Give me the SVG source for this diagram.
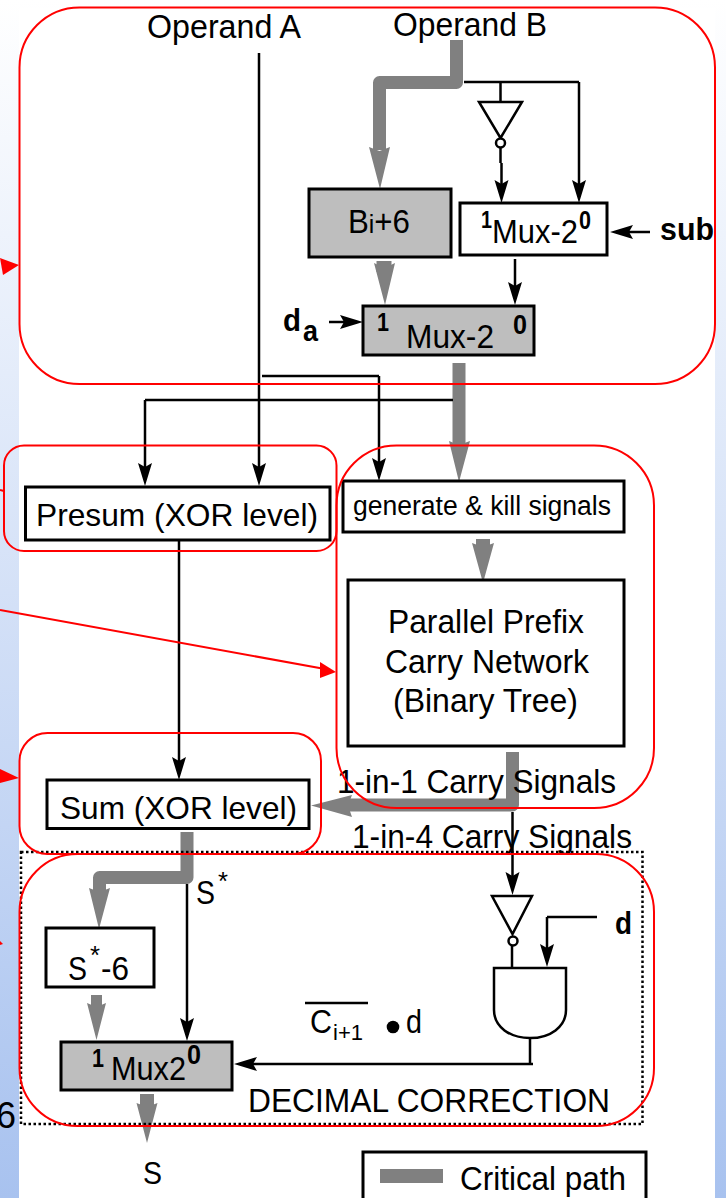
<svg xmlns="http://www.w3.org/2000/svg" width="726" height="1198" viewBox="0 0 726 1198">
<style>
text{font-family:"Liberation Sans",Arial,sans-serif;fill:#000}
.b{font-weight:bold}
.box{fill:#fff;stroke:#000;stroke-width:3}
.gbox{fill:#bebebe;stroke:#000;stroke-width:3}
.thin{fill:none;stroke:#000;stroke-width:2.500}
.arr{marker-end:url(#ah)}
.thick{fill:none;stroke:#808080;stroke-width:13;stroke-linejoin:round}
.head{fill:#808080}
.red{fill:none;stroke:#f00;stroke-width:2}
.redl{fill:none;stroke:#f00;stroke-width:2}
.redh{fill:#f00}
.gate{fill:#fff;stroke:#000;stroke-width:2.500}
</style>
<defs>
<linearGradient id="bg" x1="0" y1="0" x2="0" y2="1"><stop offset="0" stop-color="#ffffff"/><stop offset="1" stop-color="#a8c2ef"/></linearGradient>
<marker id="ah" markerUnits="userSpaceOnUse" markerWidth="24" markerHeight="16" viewBox="0 0 24 16" refX="17" refY="8" orient="auto"><path d="M0 1L23 8L0 15L4 8Z" fill="#000"/></marker>
</defs>
<rect id="background" width="726" height="1198" fill="url(#bg)"/>
<rect id="page" x="19" y="8" width="696" height="1190" fill="#fff"/>
<text x="-4" y="1128" font-size="36">6</text>

<g id="connectors">
<path class="thick" d="M456.500 40V82.500H379.500V150"/>
<polygon class="head" points="369,147 379.500,151 390,147 380,189"/>
<path class="thick" style="stroke-width:15" d="M384 261V272"/>
<polygon class="head" points="374,263 384.500,268 395,263 385,305"/>
<path class="thick" d="M459 363V445"/>
<polygon class="head" points="449,441 459,445 470,441 459,482"/>
<path class="thick" style="stroke-width:14" d="M483 539V550"/>
<polygon class="head" points="472,543 483,547 494,543 483,583"/>
<path class="thick" d="M512.500 752V805H345"/>
<polygon class="head" points="352,795 348,805.500 352,817 311,805.500"/>
<path class="thick" d="M187 832V877.500H99.500V892"/>
<polygon class="head" points="89,888 99.500,892 110,888 99,929"/>
<path class="thick" style="stroke-width:11" d="M96.500 995V1008"/>
<polygon class="head" points="87,1003 96.500,1007 106,1003 96.500,1040"/>
<path class="thick" style="stroke-width:14" d="M147 1094V1108"/>
<polygon class="head" points="136.500,1103 147,1107 157.500,1103 147,1143"/>

<path class="thin" d="M464 82H579"/>
<path class="thin arr" d="M579 82V197"/>
<path class="thin" d="M500.500 82V102"/>
<path class="thin" d="M500.500 148V163"/>
<path class="thin arr" d="M501.500 163V197"/>
<path class="thin arr" d="M650 232H616"/>
<path class="thin arr" d="M515 259V299"/>
<path class="thin arr" d="M329 322H357"/>
<path class="thin arr" d="M259 53V480"/>
<path class="thin" d="M145 400H453"/>
<path class="thin arr" d="M145 400V480"/>
<path class="thin" d="M262 376H379"/>
<path class="thin arr" d="M379 376V475"/>
<path class="thin arr" d="M179 541V774"/>
<path class="thin arr" d="M512.500 812V889"/>
<path class="thin arr" d="M187 884V1035"/>
<path class="thin" d="M512 946V968"/>
<path class="thin" d="M597 917H547"/>
<path class="thin arr" d="M547 917V961"/>
<path class="thin" d="M530 1038V1063"/>
<path class="thin arr" d="M533 1064H240"/>
</g>

<g id="label-operand-a"><text x="147" y="38" font-size="33" textLength="154" lengthAdjust="spacingAndGlyphs">Operand A</text></g>
<g id="label-operand-b"><text x="393" y="36" font-size="33" textLength="154" lengthAdjust="spacingAndGlyphs">Operand B</text></g>

<g id="inverter-1">
<polygon class="gate" points="479,102 522,102 500.500,138"/>
<circle class="gate" cx="500.500" cy="143" r="4.500"/>
</g>
<g id="node-bi6">
<rect class="gbox" x="309" y="189" width="142" height="68"/>
<text x="348" y="233" font-size="33" textLength="62" lengthAdjust="spacingAndGlyphs">B<tspan font-size="26">i</tspan>+6</text>
</g>
<g id="node-mux-top">
<rect class="box" x="460" y="203" width="147" height="52"/>
<text class="b" x="481" y="228" font-size="24" textLength="11" lengthAdjust="spacingAndGlyphs">1</text>
<text x="492" y="243" font-size="33" textLength="86" lengthAdjust="spacingAndGlyphs">Mux-2</text>
<text class="b" x="579" y="229" font-size="26" textLength="12" lengthAdjust="spacingAndGlyphs">0</text>
</g>
<g id="label-sub"><text class="b" x="660" y="240" font-size="32" textLength="54" lengthAdjust="spacingAndGlyphs">sub</text></g>
<g id="node-mux-gray">
<rect class="gbox" x="363" y="306" width="171" height="49"/>
<text class="b" x="377" y="331" font-size="26" textLength="12" lengthAdjust="spacingAndGlyphs">1</text>
<text class="b" x="513" y="334" font-size="28" textLength="14" lengthAdjust="spacingAndGlyphs">0</text>
<text x="406" y="348" font-size="33" textLength="88" lengthAdjust="spacingAndGlyphs">Mux-2</text>
</g>
<g id="label-da">
<text class="b" x="283" y="331" font-size="32" textLength="18" lengthAdjust="spacingAndGlyphs">d</text>
<text class="b" x="303" y="341" font-size="30" textLength="15" lengthAdjust="spacingAndGlyphs">a</text>
</g>
<g id="node-presum">
<rect class="box" x="25.500" y="487" width="304.500" height="53"/>
<text x="36" y="526" font-size="32" textLength="282" lengthAdjust="spacingAndGlyphs">Presum (XOR level)</text>
</g>
<g id="node-generate">
<rect class="box" x="343" y="481" width="281" height="51"/>
<text x="353" y="515" font-size="27" textLength="258" lengthAdjust="spacingAndGlyphs">generate &amp; kill signals</text>
</g>
<g id="node-prefix">
<rect class="box" x="348" y="580" width="276" height="166"/>
<text x="388" y="633" font-size="33" textLength="196" lengthAdjust="spacingAndGlyphs">Parallel Prefix</text>
<text x="385" y="673" font-size="33" textLength="204" lengthAdjust="spacingAndGlyphs">Carry Network</text>
<text x="393" y="712" font-size="33" textLength="185" lengthAdjust="spacingAndGlyphs">(Binary Tree)</text>
</g>
<g id="label-carry-1"><text x="337" y="793" font-size="33" textLength="279" lengthAdjust="spacingAndGlyphs">1-in-1 Carry Signals</text></g>
<g id="label-carry-4"><text x="352" y="848" font-size="33" textLength="280" lengthAdjust="spacingAndGlyphs">1-in-4 Carry Signals</text></g>
<g id="node-sum">
<rect class="box" x="47" y="780" width="262" height="48.500"/>
<text x="60" y="819" font-size="32" textLength="237" lengthAdjust="spacingAndGlyphs">Sum (XOR level)</text>
</g>
<g id="label-s-star">
<text x="196" y="904" font-size="33" textLength="19" lengthAdjust="spacingAndGlyphs">S</text>
<text x="218" y="890" font-size="26" textLength="10" lengthAdjust="spacingAndGlyphs">*</text>
</g>
<g id="node-s6">
<rect class="box" x="46" y="928" width="108" height="59"/>
<text x="68" y="980" font-size="33" textLength="19" lengthAdjust="spacingAndGlyphs">S</text>
<text x="90" y="964" font-size="26" textLength="10" lengthAdjust="spacingAndGlyphs">*</text>
<text x="101" y="980" font-size="33" textLength="28" lengthAdjust="spacingAndGlyphs">-6</text>
</g>
<g id="node-mux2">
<rect class="gbox" x="61" y="1042" width="171" height="48"/>
<text class="b" x="92" y="1067" font-size="26" textLength="12" lengthAdjust="spacingAndGlyphs">1</text>
<text x="111" y="1080" font-size="33" textLength="75" lengthAdjust="spacingAndGlyphs">Mux2</text>
<text class="b" x="187" y="1064" font-size="28" textLength="14" lengthAdjust="spacingAndGlyphs">0</text>
</g>
<g id="inverter-2">
<polygon class="gate" points="492,896 532,896 512.500,934"/>
<circle class="gate" cx="513" cy="941" r="4.500"/>
</g>
<g id="gate-and">
<path class="gate" d="M494 968H566V1010C566 1027 550 1038 530 1038C510 1038 494 1027 494 1010Z"/>
</g>
<g id="label-d"><text class="b" x="615" y="934" font-size="32" textLength="17" lengthAdjust="spacingAndGlyphs">d</text></g>
<g id="label-expr">
<path class="thin" d="M305 1003H368"/>
<text x="310" y="1033" font-size="33" textLength="22" lengthAdjust="spacingAndGlyphs">C</text>
<text x="333" y="1040" font-size="22" textLength="30" lengthAdjust="spacingAndGlyphs">i+1</text>
<circle cx="393" cy="1027" r="6.300" fill="#000"/>
<text x="406" y="1033" font-size="33" textLength="16" lengthAdjust="spacingAndGlyphs">d</text>
</g>
<g id="label-decimal"><text x="248" y="1112" font-size="33" textLength="362" lengthAdjust="spacingAndGlyphs">DECIMAL CORRECTION</text></g>
<g id="label-s"><text x="143" y="1184" font-size="32" textLength="19" lengthAdjust="spacingAndGlyphs">S</text></g>
<g id="legend">
<rect x="363" y="1152" width="283" height="60" fill="#fff" stroke="#000" stroke-width="3"/>
<rect x="380" y="1169" width="63" height="14" fill="#808080"/>
<text x="460" y="1190" font-size="33" textLength="166" lengthAdjust="spacingAndGlyphs">Critical path</text>
</g>

<g id="decimal-frame">
<rect x="21" y="852" width="621.500" height="272" fill="none" stroke="#000" stroke-width="2.500" stroke-dasharray="2.500 2.500"/>
</g>
<g id="annotations">
<rect class="red" x="19.500" y="7.500" width="695.500" height="376.500" rx="60" ry="60"/>
<rect class="red" x="4" y="445.500" width="332.500" height="105.500" rx="20" ry="20"/>
<rect class="red" x="336.500" y="445.500" width="317.500" height="362.500" rx="60" ry="60"/>
<rect class="red" x="19.500" y="733" width="301.500" height="121" rx="28" ry="28"/>
<rect class="red" x="19.500" y="854" width="634.500" height="272" rx="58" ry="58"/>
<polygon class="redh" points="19,265 0,258 3,275"/>
<path class="redl" d="M0 490L4 491"/>
<path class="redl" d="M0 610L325 669"/>
<polygon class="redh" points="336,672 320,662 320,678"/>
<polygon class="redh" points="19,778 0,769 0,783"/>
<polygon class="redh" points="0,941 3,944 0,945"/>
</g>
</svg>
